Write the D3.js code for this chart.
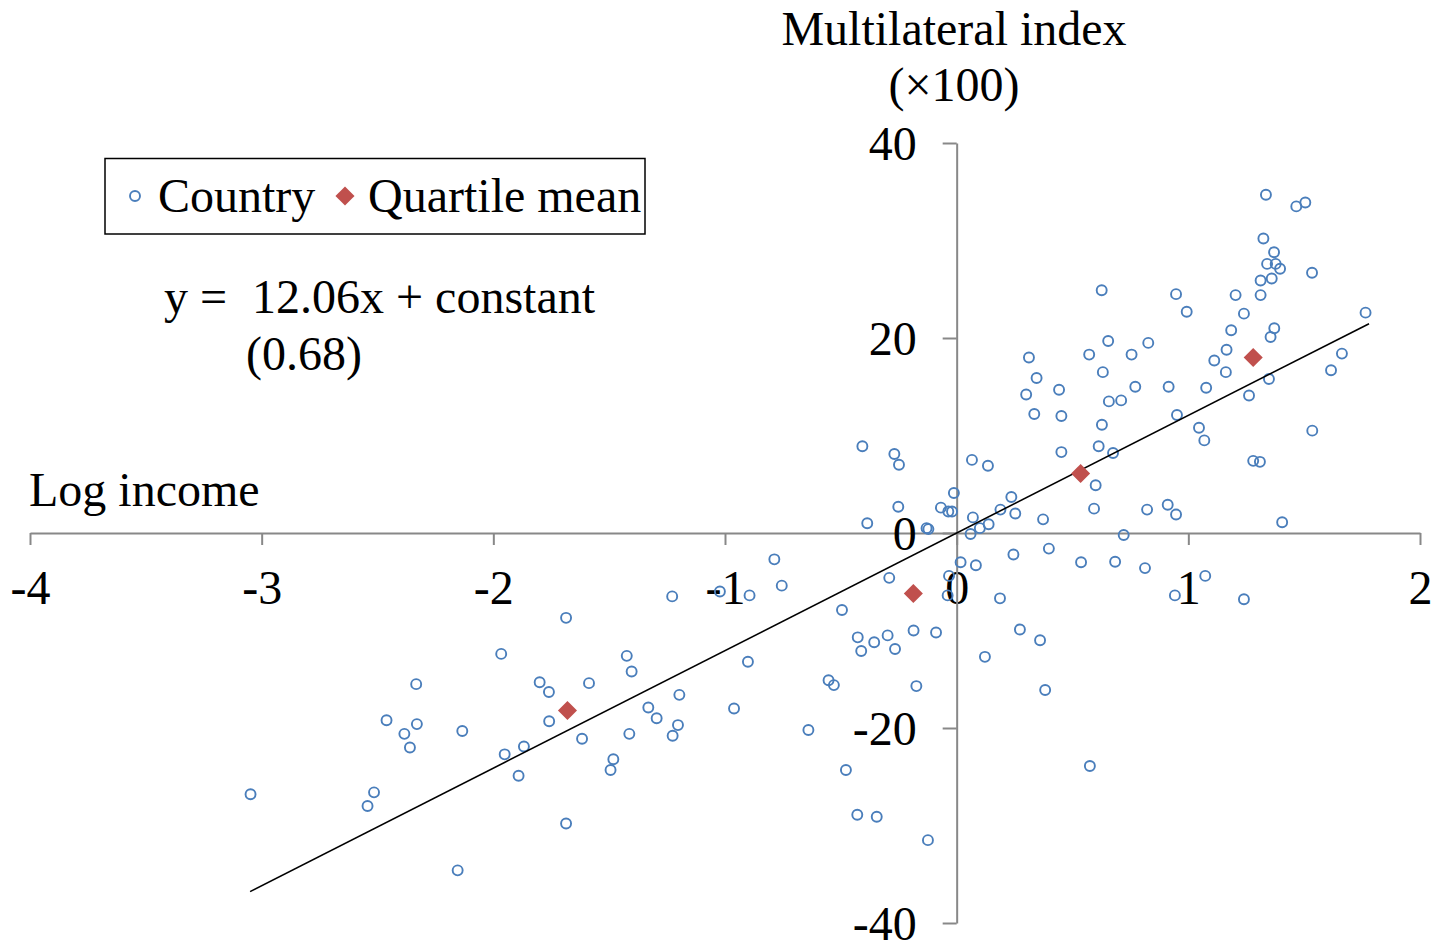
<!DOCTYPE html>
<html>
<head>
<meta charset="utf-8">
<script src="https://cdn.jsdelivr.net/npm/d3@7"></script>
<style>
  html, body { margin: 0; padding: 0; background: #fff; }
  svg { display: block; }
  text { font-family: "Liberation Serif", "Times New Roman", serif; fill: #000; }
</style>
</head>
<body>
<svg id="chart" width="1441" height="943"></svg>
<script>
// ---- data ----
const countryX = [
  -3.048,-2.333,-2.461,-2.33,-2.384,-2.36,-2.515,-2.543,-2.154,-2.134,-1.966,-1.80,-1.76,-1.759,-1.951,-1.868,-1.891,
  -0.787,-0.755,-1.022,-0.894,-1.228,-1.686,-0.495,-1.424,-1.403,-0.901,-1.587,-1.617,-1.413,-1.331,-1.295,-1.197,-1.203,-1.226,-0.961,-1.482,-1.494,-1.686,-0.64,-0.553,-0.53,
  -0.407,-0.269,-0.249,0.066,0.135,-0.012,-0.252,-0.068,-0.036,-0.02,0.07,0.138,0.10,0.06,-0.386,-0.13,-0.122,0.189,0.017,0.083,-0.033,-0.291,-0.039,0.187,-0.427,-0.356,-0.298,-0.412,-0.266,-0.186,-0.089,0.122,-0.174,-0.478,-0.429,-0.345,-0.124,
  0.626,0.947,0.993,0.654,0.827,0.312,0.572,0.755,0.631,0.345,0.442,0.30,0.771,0.915,0.657,0.71,0.335,0.452,0.951,0.627,0.452,0.613,0.675,0.60,0.236,0.253,0.593,0.822,0.911,0.947,0.373,0.721,0.245,0.398,0.537,0.684,0.813,0.942,
  1.335,1.466,1.505,1.324,1.37,1.34,1.377,1.396,1.534,1.312,1.36,1.204,1.312,1.24,1.765,1.185,1.371,1.355,1.165,1.112,1.162,1.663,1.616,1.077,1.348,1.262,1.046,1.069,1.535,1.28,1.309,1.405,1.073,1.24,
  0.273,0.36,0.382,0.575
];
const countryY = [
  -26.8,-15.5,-19.2,-19.6,-20.6,-22.0,-26.6,-28.0,-34.6,-20.3,-12.4,-15.3,-16.3,-19.3,-22.7,-21.9,-24.9,
  -2.7,-5.4,-6.0,-6.4,-6.5,-8.7,-7.9,-12.6,-14.2,-13.2,-15.4,-21.1,-20.6,-17.9,-19.0,-16.6,-19.7,-20.8,-18.0,-23.2,-24.3,-29.8,-20.2,-15.1,-15.6,
  8.9,8.1,7.0,7.5,6.9,4.1,2.7,2.6,2.2,2.2,1.6,0.9,0.5,-0.1,1.0,0.5,0.4,2.4,-3.0,-3.3,-4.4,-4.6,-6.4,-6.7,-10.7,-11.2,-10.5,-12.1,-11.9,-10.0,-10.2,-12.7,-15.7,-24.3,-28.9,-29.1,-31.5,
  24.9,24.5,22.7,19.7,19.5,18.0,18.3,18.3,16.5,15.9,14.7,14.2,15.0,15.0,13.5,13.6,12.2,12.0,12.1,11.1,8.3,8.9,8.2,4.9,3.7,2.0,2.5,2.4,2.9,1.9,1.4,-0.2,-2.2,-1.6,-3.0,-2.95,-3.6,-6.4,
  34.7,33.5,33.9,30.2,28.8,27.6,27.6,27.1,26.7,25.9,26.1,24.4,24.4,22.5,22.6,20.8,21.0,20.1,18.8,17.7,16.5,18.4,16.7,14.9,15.8,14.1,10.8,9.5,10.5,7.4,7.3,1.1,-4.4,-6.8,
  -9.9,-11.0,-16.1,-23.9
];
const quartileX = [-1.68, -0.187, 0.535, 1.28];
const quartileY = [-18.2, -6.2, 6.1, 18.0];
const slope = 12.06;
const lineXRange = [-3.05, 1.78];
const xTicks = [-4, -3, -2, -1, 0, 1, 2];
const yTicks = [-40, -20, 0, 20, 40];
const legendLabels = ["Country", "Quartile mean"];

// ---- chart ----
const FS = 48;
const svg = d3.select("#chart");
const x = d3.scaleLinear().domain([-4, 2]).range([30, 1420]);
const y = d3.scaleLinear().domain([-40, 40]).range([923, 143]);
const axisColor = "#888888";
const blue = "#4a7ebb";
const red = "#c0504d";

// x axis at y=0
const gx = svg.append("g")
  .attr("transform", `translate(0,${y(0)})`)
  .call(d3.axisBottom(x).tickValues(xTicks).tickSize(12).tickSizeOuter(0).tickPadding(26)
        .tickFormat(d => String(d)));
// y axis at x=0
const gy = svg.append("g")
  .attr("transform", `translate(${x(0)},0)`)
  .call(d3.axisLeft(y).tickValues(yTicks).tickSize(14).tickSizeOuter(0).tickPadding(26)
        .tickFormat(d => String(d)));
[gx, gy].forEach(g => {
  g.select(".domain").attr("stroke", axisColor).attr("stroke-width", 2);
  g.selectAll(".tick line").attr("stroke", axisColor).attr("stroke-width", 2);
  g.selectAll(".tick text")
    .attr("fill", "#000")
    .style("font-family", '"Liberation Serif", "Times New Roman", serif')
    .style("font-size", FS + "px");
});
gx.selectAll(".tick text").attr("dy", null).attr("y", 71);
gy.selectAll(".tick text").attr("dy", "0.34em");

// country points
const pts = countryX.map((d, i) => ({ x: d, y: countryY[i] }));
svg.append("g").selectAll("circle").data(pts).join("circle")
  .attr("cx", d => x(d.x)).attr("cy", d => y(d.y)).attr("r", 5)
  .attr("fill", "none").attr("stroke", blue).attr("stroke-width", 1.9);

// trend line
svg.append("line")
  .attr("x1", x(lineXRange[0])).attr("y1", y(slope * lineXRange[0]))
  .attr("x2", x(lineXRange[1])).attr("y2", y(slope * lineXRange[1]))
  .attr("stroke", "#000").attr("stroke-width", 1.6);

// quartile means
const diamond = d3.symbol().type(d3.symbolSquare).size(182);
const qs = quartileX.map((d, i) => ({ x: d, y: quartileY[i] }));
svg.append("g").selectAll("path").data(qs).join("path")
  .attr("d", diamond)
  .attr("transform", d => `translate(${x(d.x)},${y(d.y)}) rotate(45)`)
  .attr("fill", red);

// axis titles
svg.append("text").attr("x", 954).attr("y", 45).attr("text-anchor", "middle")
  .style("font-size", FS + "px").text("Multilateral index");
svg.append("text").attr("x", 954).attr("y", 101).attr("text-anchor", "middle")
  .style("font-size", FS + "px").text("(\u00d7100)");
svg.append("text").attr("x", 29).attr("y", 506)
  .style("font-size", FS + "px").text("Log income");

// legend
const lg = svg.append("g");
lg.append("rect").attr("x", 105).attr("y", 158.5).attr("width", 540).attr("height", 75.5)
  .attr("fill", "#fff").attr("stroke", "#000").attr("stroke-width", 1.5);
lg.append("circle").attr("cx", 135).attr("cy", 196).attr("r", 5)
  .attr("fill", "none").attr("stroke", blue).attr("stroke-width", 1.9);
lg.append("text").attr("x", 158).attr("y", 212).style("font-size", FS + "px").text(legendLabels[0]);
lg.append("path").attr("d", diamond).attr("transform", "translate(345,196) rotate(45)").attr("fill", red);
lg.append("text").attr("x", 368).attr("y", 212).style("font-size", FS + "px").text(legendLabels[1]);

// equation
svg.append("text").attr("x", 164).attr("y", 313).style("font-size", FS + "px").text("y =");
svg.append("text").attr("x", 252).attr("y", 313).style("font-size", FS + "px")
  .text(`${slope.toFixed(2)}x + constant`);
svg.append("text").attr("x", 246).attr("y", 370).style("font-size", FS + "px").text("(0.68)");
</script>
</body>
</html>
